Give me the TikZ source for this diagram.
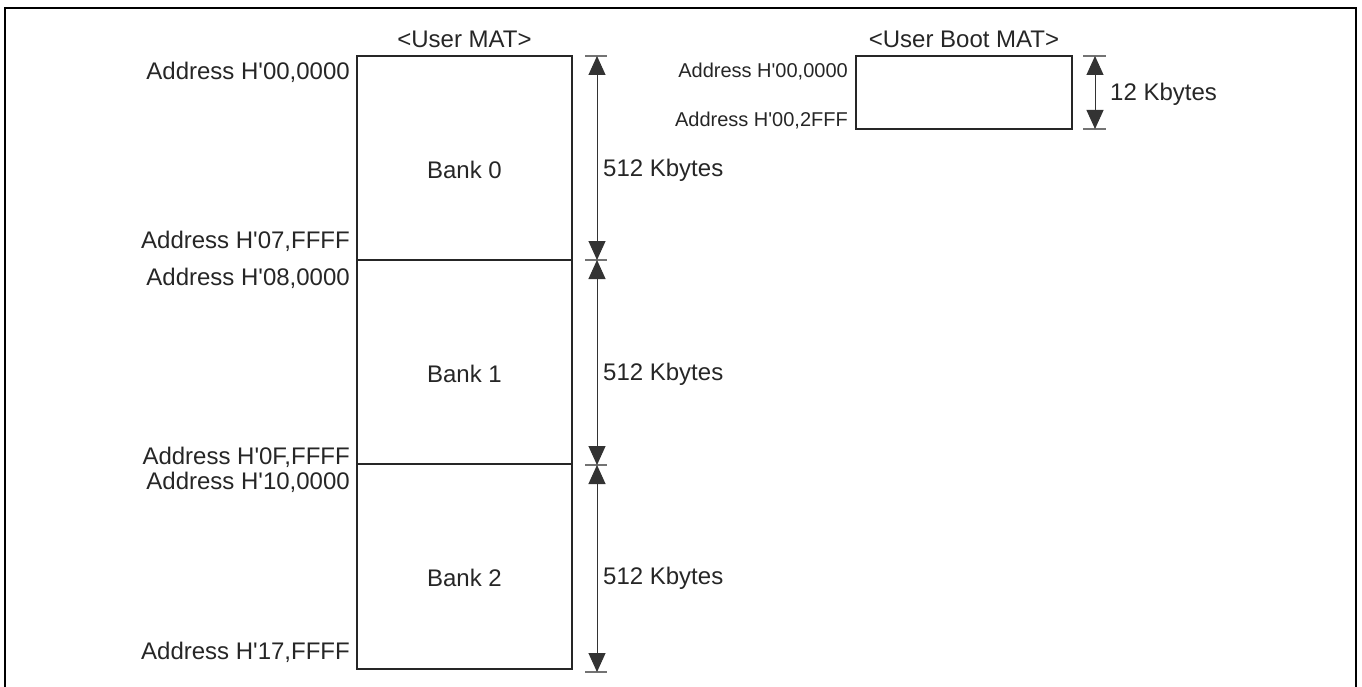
\documentclass[tikz,border=0pt]{standalone}
\usepackage{fontspec}
\setmainfont{Liberation Sans}
\usetikzlibrary{arrows.meta}
\newcommand{\q}{\textquotesingle}
\begin{document}
\begin{tikzpicture}[x=1pt,y=-1pt,
  bank/.style={draw=black!85,line width=1.3pt,minimum width=215pt,inner sep=0pt},
  lbl/.style={font=\fontsize{24}{28}\selectfont,inner sep=0pt,text=black!85},
  slbl/.style={font=\fontsize{20}{24}\selectfont,inner sep=0pt,text=black!85},
  tick/.style={draw=black!55,line width=1.2pt},
  dim/.style={draw=black!80,line width=1pt,-{Triangle[width=17pt,length=19pt]}},
  dimb/.style={draw=black!80,line width=1pt,{Triangle[width=17pt,length=19pt]}-{Triangle[width=17pt,length=19pt]}}]
\useasboundingbox (0,0) rectangle (1362,687);
\draw[line width=2pt] (5,710) -- (5,8) -- (1356,8) -- (1356,710);
% User MAT
\node[bank,minimum height=204pt] (b0) at (464.5,158) {};
\node[bank,minimum height=204pt] (b1) at (464.5,362) {};
\node[bank,minimum height=205pt] (b2) at (464.5,566.5) {};
\node[lbl] (n0) at (464.5,170) {Bank 0};
\node[lbl] (n1) at (464.5,374) {Bank 1};
\node[lbl] (n2) at (464.5,578) {Bank 2};
\node[lbl] (umat) at (464.5,39) {<User MAT>};
\node[lbl,anchor=east] (a0) at (350,72) {Address H\q00,0000};
\node[lbl,anchor=east] (a1) at (350,241) {Address H\q07,FFFF};
\node[lbl,anchor=east] (a2) at (350,278) {Address H\q08,0000};
\node[lbl,anchor=east] (a3) at (350,457) {Address H\q0F,FFFF};
\node[lbl,anchor=east] (a4) at (350,482) {Address H\q10,0000};
\node[lbl,anchor=east] (a5) at (350,652) {Address H\q17,FFFF};
% ticks
\coordinate (t0) at (597,56);
\coordinate (t1) at (597,260);
\coordinate (t2) at (597,465);
\coordinate (t3) at (597,672);
\coordinate (m0) at (597,158);
\coordinate (m1) at (597,362);
\coordinate (m2) at (597,568);
\foreach \t in {t0,t1,t2,t3}{\draw[tick] ([xshift=-12pt]\t) -- ([xshift=10pt]\t);}
\draw[dim] (m0) -- (t0);
\draw[dim] (m0) -- (t1);
\draw[dim] (m1) -- (t1);
\draw[dim] (m1) -- (t2);
\draw[dim] (m2) -- (t2);
\draw[dim] (m2) -- (t3);
\node[lbl,anchor=west] (k0) at (603,170) {512 Kbytes};
\node[lbl,anchor=west] (k1) at (603,374) {512 Kbytes};
\node[lbl,anchor=west] (k2) at (603,578) {512 Kbytes};
% User Boot MAT
\node[bank,minimum width=216pt,minimum height=73pt] (boot) at (964,92.5) {};
\node[lbl] (bmat) at (964,39) {<User Boot MAT>};
\node[slbl,anchor=east] (ba0) at (848,72) {Address H\q00,0000};
\node[slbl,anchor=east] (ba1) at (848,121) {Address H\q00,2FFF};
\coordinate (u0) at (1095,56);
\coordinate (u1) at (1095,129);
\foreach \t in {u0,u1}{\draw[tick] ([xshift=-12pt]\t) -- ([xshift=11pt]\t);}
\draw[dimb] (u0) -- (u1);
\node[lbl,anchor=west] (k3) at (1110,94) {12 Kbytes};
\end{tikzpicture}
\end{document}
